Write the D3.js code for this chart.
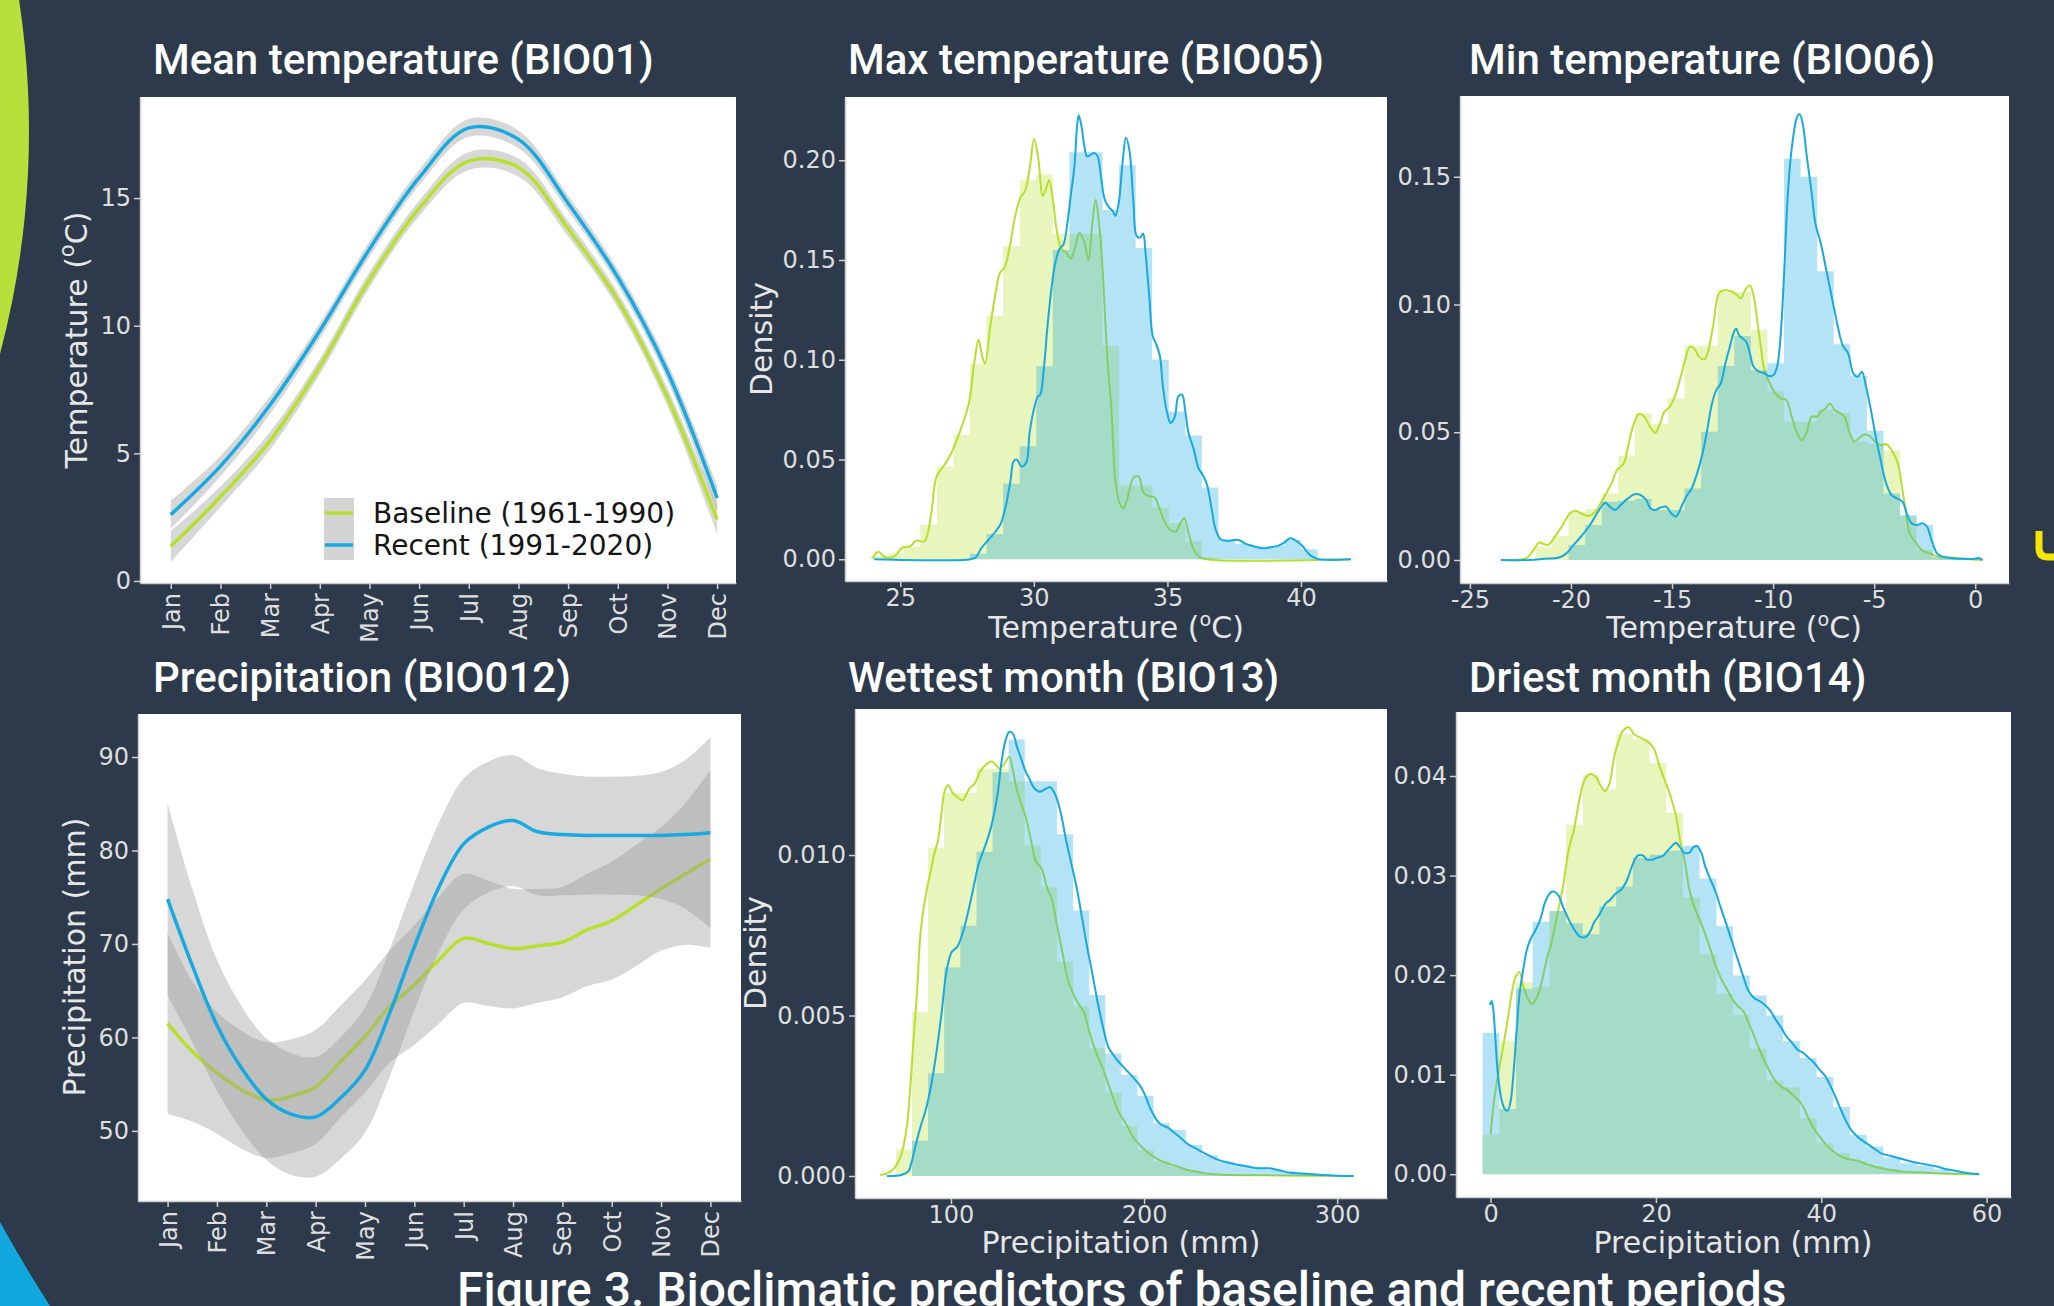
<!DOCTYPE html>
<meta charset="utf-8">
<style>
  body { margin: 0; background: #2d3a4b; }
  svg { display: block; }
  .title { font-family: Roboto, sans-serif; font-weight: 500; font-size: 42px; fill: #fff; }
  .axlabel { font-family: "DejaVu Sans", sans-serif; font-size: 30px; fill: #e6e6e6; }
  .legend { font-family: "DejaVu Sans", sans-serif; font-size: 28px; fill: #151515; }
</style>
<svg width="2054" height="1306"></svg>
<script src="https://d3js.org/d3.v7.min.js"></script>
<script>
// ---- data ----
var months = ["Jan", "Feb", "Mar", "Apr", "May", "Jun", "Jul", "Aug", "Sep", "Oct", "Nov", "Dec"]
var monthPos = [0, 1, 2, 3, 4, 5, 6, 7, 8, 9, 10, 11]
var halfMonthPos = [0, 0.5, 1, 1.5, 2, 2.5, 3, 3.5, 4, 4.5, 5, 5.5, 6, 6.5, 7, 7.5, 8, 8.5, 9, 9.5, 10, 10.5, 11]

// BIO01 mean temperature per month
var tempBase = [1.35, 3.3, 5.5, 8.4, 11.8, 14.6, 16.45, 16.2, 13.8, 11.0, 7.2, 2.4]
var tempRecent = [2.6, 4.5, 6.9, 9.8, 13.0, 15.8, 17.75, 17.3, 14.8, 11.9, 8.2, 3.25]
var tempBaseCi = [0.6, 0.4, 0.35, 0.3, 0.3, 0.3, 0.35, 0.35, 0.3, 0.3, 0.35, 0.55]
var tempRecentCi = [0.55, 0.4, 0.35, 0.3, 0.3, 0.3, 0.35, 0.35, 0.3, 0.3, 0.35, 0.5]

// BIO12 precipitation, half-month steps
var precBase = [61.5, 58.5, 56.2, 54.4, 53.3, 53.7, 54.7, 57.4, 60.1, 63.3, 65.6, 68.3, 70.6, 70.05, 69.5, 69.8, 70.2, 71.5, 72.5, 74.15, 75.9, 77.5, 79.1]
var precRecent = [74.8, 67.7, 61.3, 56.7, 53.4, 51.8, 51.5, 53.5, 56.5, 62.6, 69.7, 76.1, 80.7, 82.5, 83.2, 82.0, 81.7, 81.6, 81.6, 81.6, 81.6, 81.7, 81.9]
var precBaseCi = [9.7, 7.5, 6.5, 6.3, 6.2, 6.1, 6.1, 6.0, 6.0, 6.0, 6.4, 6.8, 6.9, 6.7, 6.4, 6.1, 5.9, 6.0, 6.3, 6.5, 6.6, 7.6, 9.5]
var precRecentCi = [10.25, 8.2, 7.0, 6.6, 6.5, 6.5, 6.4, 6.5, 6.7, 6.8, 6.8, 6.9, 7.0, 7.0, 7.0, 6.8, 6.5, 6.3, 6.3, 6.4, 6.8, 8.0, 10.2]

// BIO05 max temperature: histogram + kde
var maxBinStart = 23.89, maxBinWidth = 0.62
var maxHistBase = [0.0017, 0.003, 0.0064, 0.0172, 0.0465, 0.0624, 0.098, 0.122, 0.157, 0.190, 0.193, 0.163, 0.163, 0.163, 0.107, 0.037, 0.037, 0.026, 0.018, 0.009, 0.001]
var maxHistRecent = [0, 0, 0, 0, 0, 0, 0.0027, 0.0127, 0.0378, 0.0566, 0.0968, 0.155, 0.204, 0.204, 0.175, 0.1975, 0.156, 0.100, 0.074, 0.062, 0.036, 0.010, 0.0077, 0.0064, 0.0067, 0.0097, 0.005, 0.0005]
var maxKdeBase = [[23.96,0.0005],[24.18,0.0038],[24.43,0.001],[24.76,0.0013],[25.09,0.006],[25.36,0.0064],[25.6,0.0094],[25.9,0.0089],[26.16,0.0231],[26.36,0.0415],[26.7,0.0482],[26.97,0.0549],[27.3,0.0666],[27.57,0.0783],[27.77,0.0984],[27.93,0.110],[28.06,0.1021],[28.17,0.0979],[28.37,0.1168],[28.57,0.1336],[28.73,0.1436],[28.9,0.1461],[29.1,0.1567],[29.3,0.172],[29.5,0.1813],[29.67,0.1846],[29.84,0.1955],[30.01,0.2106],[30.17,0.2005],[30.33,0.1821],[30.47,0.1863],[30.57,0.1901],[30.71,0.1804],[30.87,0.1637],[31.04,0.1553],[31.22,0.1537],[31.38,0.1507],[31.54,0.1562],[31.71,0.1637],[31.89,0.1587],[32.05,0.15],[32.18,0.167],[32.31,0.1801],[32.45,0.167],[32.58,0.1436],[32.74,0.1034],[32.91,0.0733],[33.05,0.0398],[33.21,0.0281],[33.36,0.0256],[33.52,0.0315],[33.72,0.0407],[33.92,0.0415],[34.12,0.0331],[34.32,0.0315],[34.52,0.0311],[34.72,0.0248],[34.92,0.0181],[35.12,0.0147],[35.32,0.0139],[35.45,0.0172],[35.63,0.0206],[35.79,0.0131],[35.99,0.0047],[36.19,0.0013],[36.46,0],[41.87,0]]
var maxKdeRecent = [[24.02,0],[27.63,0],[27.83,0.001],[28.03,0.0055],[28.3,0.0097],[28.57,0.0139],[28.77,0.0181],[28.97,0.0281],[29.13,0.0398],[29.24,0.049],[29.37,0.0499],[29.53,0.0465],[29.71,0.0482],[29.84,0.0633],[29.97,0.0733],[30.15,0.0817],[30.24,0.0825],[30.37,0.0951],[30.51,0.1168],[30.64,0.1336],[30.78,0.147],[30.95,0.1553],[31.11,0.1578],[31.24,0.1671],[31.38,0.1821],[31.52,0.1972],[31.62,0.2173],[31.68,0.2226],[31.78,0.2173],[31.89,0.2072],[31.99,0.2019],[32.11,0.2026],[32.25,0.2036],[32.38,0.2022],[32.51,0.1922],[32.65,0.1804],[32.82,0.1762],[32.95,0.1746],[33.05,0.1721],[33.18,0.1788],[33.32,0.1989],[33.45,0.2114],[33.58,0.2047],[33.72,0.1804],[33.85,0.162],[33.98,0.1612],[34.09,0.1633],[34.18,0.1537],[34.32,0.1319],[34.45,0.1118],[34.59,0.1076],[34.72,0.1018],[34.83,0.0867],[34.99,0.0733],[35.12,0.0683],[35.28,0.0716],[35.41,0.0817],[35.55,0.0825],[35.66,0.075],[35.79,0.0633],[35.99,0.0549],[36.16,0.0457],[36.32,0.0424],[36.48,0.0375],[36.66,0.0249],[36.79,0.0156],[36.99,0.01],[37.26,0.0092],[37.66,0.0097],[37.93,0.0077],[38.26,0.0064],[38.6,0.0055],[38.86,0.006],[39.13,0.0067],[39.33,0.008],[39.6,0.0105],[39.8,0.0094],[40.07,0.0064],[40.33,0.0022],[40.6,0.0002],[41.87,0]]

// BIO06 min temperature
var minBinStart = -21.76, minBinWidth = 0.82
var minHistBase = [0.0052, 0.0094, 0.0189, 0.020, 0.026, 0.0408, 0.0574, 0.0532, 0.0633, 0.0839, 0.0839, 0.1057, 0.1049, 0.090, 0.0659, 0.0541, 0.0541, 0.0587, 0.0574, 0.0463, 0.0454, 0.0428, 0.017, 0.004, 0.0013, 0.0007, 0.0004]
var minHistRecent = [0, 0, 0.0059, 0.0137, 0.0228, 0.0232, 0.024, 0.0196, 0.0196, 0.028, 0.0502, 0.0759, 0.0877, 0.0743, 0.077, 0.157, 0.150, 0.113, 0.0844, 0.072, 0.0506, 0.026, 0.0176, 0.0137, 0.0013, 0.0007, 0.0004]
var minKdeBase = [[-23.47,0],[-22.39,0.0003],[-22.12,0.0013],[-21.85,0.0039],[-21.58,0.0068],[-21.35,0.0063],[-21.13,0.0059],[-20.77,0.0094],[-20.41,0.0137],[-20.05,0.0183],[-19.78,0.0193],[-19.51,0.0183],[-19.15,0.0172],[-18.8,0.0189],[-18.53,0.0222],[-18.26,0.0261],[-17.99,0.03],[-17.72,0.0352],[-17.39,0.0378],[-17.18,0.0443],[-16.91,0.0528],[-16.64,0.0571],[-16.37,0.0561],[-16.1,0.0522],[-15.83,0.0498],[-15.59,0.0535],[-15.38,0.058],[-15.11,0.06],[-14.84,0.0646],[-14.57,0.0717],[-14.33,0.0789],[-14.12,0.0835],[-13.9,0.0828],[-13.67,0.0796],[-13.4,0.0785],[-13.18,0.0828],[-12.95,0.0926],[-12.68,0.1043],[-12.41,0.1057],[-12.05,0.105],[-11.78,0.1037],[-11.6,0.1024],[-11.38,0.1057],[-11.15,0.1074],[-10.97,0.1037],[-10.79,0.0939],[-10.61,0.0835],[-10.43,0.0743],[-10.16,0.0691],[-9.89,0.0652],[-9.62,0.0633],[-9.35,0.0626],[-9.08,0.0561],[-8.81,0.0496],[-8.58,0.047],[-8.36,0.0496],[-8.09,0.0561],[-7.82,0.0561],[-7.64,0.058],[-7.41,0.0593],[-7.19,0.0613],[-6.96,0.0587],[-6.71,0.0576],[-6.47,0.0561],[-6.21,0.0496],[-5.99,0.0463],[-5.76,0.0476],[-5.49,0.0491],[-5.22,0.0485],[-4.95,0.0463],[-4.68,0.045],[-4.41,0.0454],[-4.14,0.043],[-3.83,0.0378],[-3.6,0.0274],[-3.42,0.0183],[-3.24,0.0104],[-2.97,0.0072],[-2.61,0.0037],[-2.25,0.0026],[-1.8,0.0013],[-1.17,0.001],[-0.45,0.0004],[0.36,0]]
var minKdeRecent = [[-23.47,0],[-22.03,0],[-21.31,0.0005],[-20.59,0.001],[-20.23,0.0026],[-19.87,0.0059],[-19.51,0.0091],[-19.06,0.0137],[-18.71,0.0183],[-18.44,0.0215],[-18.29,0.0224],[-18.08,0.0209],[-17.81,0.0196],[-17.54,0.0215],[-17.18,0.0241],[-16.82,0.0258],[-16.55,0.0254],[-16.28,0.0235],[-16.06,0.0202],[-15.83,0.0196],[-15.56,0.0206],[-15.29,0.0209],[-15.05,0.0183],[-14.8,0.017],[-14.57,0.0202],[-14.3,0.0248],[-14.03,0.028],[-13.76,0.0339],[-13.49,0.0417],[-13.26,0.0509],[-13.04,0.0607],[-12.81,0.0665],[-12.59,0.0691],[-12.36,0.0769],[-12.14,0.0835],[-11.96,0.0887],[-11.83,0.0906],[-11.69,0.088],[-11.51,0.0867],[-11.33,0.0854],[-11.15,0.0809],[-10.97,0.0757],[-10.7,0.0737],[-10.43,0.0731],[-10.2,0.072],[-9.98,0.0724],[-9.8,0.0757],[-9.62,0.0887],[-9.44,0.1148],[-9.26,0.1448],[-9.05,0.163],[-8.81,0.1735],[-8.69,0.1745],[-8.54,0.1709],[-8.33,0.1578],[-8.09,0.1435],[-7.91,0.1317],[-7.64,0.1239],[-7.37,0.1135],[-7.1,0.103],[-6.83,0.0926],[-6.56,0.0841],[-6.29,0.0809],[-6.03,0.073],[-5.81,0.0717],[-5.61,0.0737],[-5.4,0.0678],[-5.13,0.0574],[-4.91,0.0476],[-4.68,0.0391],[-4.41,0.03],[-4.14,0.0254],[-3.87,0.0241],[-3.6,0.0228],[-3.36,0.0176],[-3.15,0.0144],[-2.88,0.0137],[-2.61,0.0144],[-2.39,0.0131],[-2.16,0.0078],[-1.89,0.0026],[-1.62,0.0013],[-1.17,0.0007],[-0.63,0.0005],[-0.09,0.0004],[0.18,0.0008],[0.36,0]]

// BIO13 wettest month precipitation
var wetBinStart = 71.48, wetBinWidth = 8.34
var wetHistBase = [0.00083, 0.0051, 0.01023, 0.01194, 0.01194, 0.0127, 0.0127, 0.0123, 0.0103, 0.009, 0.00668, 0.0053, 0.00398, 0.0026, 0.00156, 0.00081, 0.00045, 0.00029, 0.00013, 0.0001, 0.00005, 0.00003]
var wetHistRecent = [0, 0.0011, 0.0032, 0.0065, 0.0078, 0.0101, 0.01258, 0.0136, 0.0123, 0.0123, 0.01065, 0.00827, 0.00564, 0.00382, 0.00315, 0.00249, 0.00164, 0.00143, 0.00097, 0.00065, 0.00045, 0.00034, 0.00024, 0.0002, 0.00014, 0.0001, 0.00006, 0.00003]
var wetKdeBase = [[63.3,0.00003],[66.9,0.00008],[70.6,0.00024],[74.2,0.00066],[76.9,0.00143],[78.7,0.00257],[80.6,0.00423],[82.4,0.00569],[84.2,0.00756],[86.0,0.00839],[87.8,0.00901],[89.6,0.00953],[91.4,0.01005],[93.3,0.01047],[95.1,0.0113],[96.9,0.01202],[98.7,0.01218],[100.5,0.01197],[103.3,0.0118],[106.0,0.01171],[107.8,0.01187],[109.6,0.01208],[112.4,0.01224],[115.1,0.0126],[117.8,0.0128],[121.4,0.01291],[123.3,0.0128],[125.1,0.0127],[127.2,0.0128],[130.2,0.01306],[132.0,0.01265],[134.2,0.01202],[136.3,0.01161],[138.7,0.01119],[141.4,0.01047],[144.1,0.00979],[146.9,0.00958],[149.6,0.00901],[152.3,0.0086],[155.0,0.00777],[157.8,0.00694],[160.5,0.00611],[163.2,0.00569],[165.9,0.00538],[168.7,0.00512],[171.4,0.00455],[174.1,0.00403],[176.8,0.00361],[179.6,0.00319],[183.2,0.00257],[186.8,0.002],[190.5,0.00164],[194.1,0.00123],[197.7,0.00097],[201.4,0.00076],[205.0,0.0006],[208.6,0.00048],[213.2,0.00037],[217.7,0.00029],[222.3,0.00019],[226.8,0.00014],[232.2,0.00008],[241.3,0.00004],[263.1,0.00002],[308.5,0]]
var wetKdeRecent = [[66.9,0],[74.2,0.00003],[77.8,0.00014],[79.7,0.00045],[81.5,0.00091],[84.2,0.00153],[86.9,0.00205],[89.6,0.00278],[92.4,0.00382],[95.1,0.00506],[97.8,0.00642],[100.5,0.00699],[103.3,0.00714],[106.0,0.00756],[108.7,0.00818],[111.4,0.00891],[114.2,0.00969],[116.9,0.01015],[119.6,0.01062],[121.8,0.01114],[124.2,0.01192],[126.3,0.01296],[128.3,0.01358],[130.2,0.01384],[132.0,0.01379],[134.2,0.01337],[136.3,0.01301],[138.7,0.0126],[140.5,0.01239],[143.2,0.01208],[146.0,0.01197],[148.7,0.01205],[151.4,0.01211],[154.1,0.01187],[156.9,0.0113],[159.6,0.01047],[162.3,0.00974],[165.0,0.00901],[167.8,0.00807],[170.5,0.00714],[173.2,0.00631],[175.9,0.00543],[178.7,0.00465],[181.4,0.00403],[184.1,0.00377],[186.8,0.00356],[190.5,0.00332],[194.1,0.00309],[197.7,0.00283],[200.5,0.00252],[203.2,0.00211],[206.8,0.00172],[209.5,0.00158],[212.3,0.00151],[215.0,0.00138],[218.7,0.0012],[222.3,0.00101],[226.8,0.00086],[232.2,0.00068],[237.7,0.00052],[243.1,0.00042],[248.6,0.00035],[254.0,0.00029],[259.5,0.00024],[265.0,0.00024],[270.4,0.00017],[275.8,0.0001],[281.3,0.00008],[290.4,0.00004],[299.5,0.00001],[308.5,0]]

// BIO14 driest month precipitation
var dryBinStart = -0.97, dryBinWidth = 2.02
var dryHistBase = [0.00396, 0.01336, 0.0193, 0.0188, 0.0264, 0.0351, 0.0401, 0.0387, 0.0442, 0.0437, 0.0413, 0.0363, 0.0278, 0.0221, 0.0181, 0.016, 0.0126, 0.0094, 0.0087, 0.0056, 0.0031, 0.0021, 0.0013, 0.0008, 0.0005, 0.0003, 0.0002, 0.0001]
var dryHistRecent = [0.0142, 0.00654, 0.01862, 0.02534, 0.02644, 0.0252, 0.0241, 0.0269, 0.0289, 0.0318, 0.0321, 0.0325, 0.033, 0.0297, 0.0249, 0.01997, 0.01795, 0.01594, 0.01336, 0.01168, 0.00977, 0.00674, 0.00396, 0.00279, 0.00171, 0.00111, 0.00084, 0.0005, 0.0002]
var dryKdeBase = [[0,0.004],[0.44,0.0075],[1.01,0.0105],[1.54,0.0129],[2.07,0.0155],[2.64,0.0185],[3.08,0.0199],[3.52,0.0203],[3.96,0.0189],[4.53,0.0176],[5.05,0.0171],[5.58,0.0177],[6.15,0.0192],[6.81,0.0216],[7.47,0.0236],[8.13,0.0263],[8.79,0.029],[9.45,0.0326],[10.11,0.0347],[10.77,0.0377],[11.43,0.0397],[12.09,0.0402],[12.75,0.0399],[13.32,0.039],[13.85,0.0385],[14.37,0.0392],[14.95,0.0419],[15.52,0.0436],[16.04,0.0446],[16.7,0.0449],[17.36,0.0442],[18.02,0.0439],[18.68,0.0436],[19.34,0.0432],[19.78,0.0427],[20.44,0.041],[21.1,0.0395],[21.76,0.038],[22.42,0.036],[22.99,0.0333],[23.52,0.0313],[24.04,0.0286],[24.62,0.0269],[25.27,0.0256],[25.93,0.0242],[26.59,0.0226],[27.25,0.0209],[27.91,0.0196],[28.57,0.0186],[29.23,0.0176],[29.89,0.0169],[30.55,0.0164],[31.21,0.0152],[31.87,0.0139],[32.53,0.0125],[33.19,0.0113],[33.85,0.0102],[34.51,0.0093],[35.16,0.0088],[35.82,0.0085],[36.48,0.008],[37.14,0.0075],[37.8,0.0068],[38.46,0.0056],[39.12,0.0046],[39.78,0.0038],[40.66,0.0029],[41.76,0.0021],[42.86,0.0016],[44.18,0.0014],[45.49,0.001],[47.25,0.0006],[49.45,0.0003],[51.65,0.0002],[53.85,0.0001],[56.04,0.00003],[58.9,0]]
var dryKdeRecent = [[-0.09,0.017],[0.13,0.0174],[0.31,0.0167],[0.57,0.0138],[0.88,0.0101],[1.32,0.0075],[1.76,0.0065],[2.07,0.0064],[2.42,0.0073],[2.77,0.0101],[3.16,0.0145],[3.52,0.0182],[3.96,0.0206],[4.4,0.0226],[4.84,0.0236],[5.49,0.0246],[6.02,0.0256],[6.59,0.0273],[7.25,0.0283],[7.69,0.0284],[8.22,0.028],[8.79,0.0268],[9.45,0.0256],[10.11,0.0246],[10.77,0.0239],[11.43,0.0238],[12.0,0.0243],[12.53,0.0253],[13.19,0.0261],[13.85,0.0271],[14.51,0.0276],[15.16,0.0282],[15.82,0.0286],[16.48,0.0295],[17.14,0.031],[17.8,0.032],[18.46,0.032],[18.9,0.0316],[19.56,0.0316],[20.22,0.0318],[20.88,0.032],[21.41,0.0325],[21.98,0.033],[22.42,0.0333],[22.86,0.0329],[23.43,0.0323],[24.04,0.0323],[24.48,0.0328],[24.92,0.033],[25.49,0.0323],[25.93,0.031],[26.59,0.0296],[27.25,0.0283],[27.91,0.0266],[28.57,0.025],[29.23,0.0233],[29.89,0.0216],[30.55,0.0199],[31.21,0.0184],[31.87,0.0177],[32.53,0.0174],[33.19,0.017],[33.85,0.0164],[34.51,0.0155],[35.16,0.0147],[35.82,0.0138],[36.48,0.0132],[37.14,0.0125],[37.8,0.0122],[38.46,0.0117],[39.12,0.0112],[39.78,0.0105],[40.44,0.0099],[41.1,0.0089],[41.76,0.0077],[42.42,0.0064],[43.08,0.0052],[43.74,0.0043],[44.62,0.0036],[45.49,0.0031],[46.37,0.0026],[47.25,0.0021],[48.57,0.0018],[49.89,0.0015],[51.21,0.0012],[52.53,0.001],[53.85,0.0008],[55.16,0.0005],[56.48,0.0003],[57.8,0.0001],[59.12,0]]

// ---- drawing ----
var lime = "#b6e02e", blue = "#17a9e0", grid = "#cfcfcf", tickText = "#dedede"
var svg = d3.select("svg")
svg.append("rect").attr("width", 2054).attr("height", 1306).attr("fill", "#2d3a4b")

// slide decorations
svg.append("circle").attr("cx", -843).attr("cy", 131).attr("r", 872).attr("fill", "#b7e03a")
svg.append("path").attr("d", "M0,1222 Q22,1262 50,1306 L0,1306Z").attr("fill", "#12a8de")
svg.append("path").attr("d", "M2039,531 L2039,548 Q2039,557 2048,557 L2056,557")
  .attr("fill", "none").attr("stroke", "#f3e600").attr("stroke-width", 7)

function panel(box, xd, yd) {
  var x = d3.scaleLinear().domain(xd).range([box.l, box.r])
  var y = d3.scaleLinear().domain(yd).range([box.b, box.t])
  svg.append("rect").attr("x", box.l).attr("y", box.t)
    .attr("width", box.r - box.l).attr("height", box.b - box.t).attr("fill", "#fff")
  return { x: x, y: y, box: box, g: svg.append("g") }
}

function styleAxis(a, fs) {
  a.attr("font-family", "DejaVu Sans").attr("font-size", fs)
  a.selectAll(".domain, .tick line").attr("stroke", grid).attr("stroke-width", 1.5)
  a.selectAll("text").attr("fill", tickText)
}

function yAxis(p, vals, fmt, fs) {
  var a = svg.append("g").attr("transform", "translate(" + p.box.l + ",0)")
    .call(d3.axisLeft(p.y).tickValues(vals).tickFormat(fmt).tickSize(6).tickPadding(3).tickSizeOuter(0))
  styleAxis(a, fs)
}

function xAxis(p, vals, fmt, fs) {
  var a = svg.append("g").attr("transform", "translate(0," + p.box.b + ")")
    .call(d3.axisBottom(p.x).tickValues(vals).tickFormat(fmt).tickSize(6).tickPadding(2).tickSizeOuter(0))
  styleAxis(a, fs)
  return a
}

function monthAxis(p) {
  var a = xAxis(p, monthPos, function (i) { return months[i] }, 24)
  a.selectAll("text").attr("transform", "rotate(-90)").attr("text-anchor", "end")
    .attr("x", -10).attr("y", 0).attr("dy", "0.35em")
}

function title(txt, x, y) {
  svg.append("text").attr("class", "title").attr("x", x).attr("y", y).text(txt)
}

function yLabel(parts, x, y, fs) {
  var t = svg.append("text").attr("class", "axlabel").attr("font-size", fs)
    .attr("transform", "translate(" + x + "," + y + ") rotate(-90)").attr("text-anchor", "middle")
  addParts(t, parts, fs)
}

function xLabel(parts, x, y, fs) {
  var t = svg.append("text").attr("class", "axlabel").attr("font-size", fs)
    .attr("x", x).attr("y", y).attr("text-anchor", "middle")
  addParts(t, parts, fs)
}

// "Temperature (", superscript "o", "C)"
function addParts(t, parts, fs) {
  if (parts.length === 1) { t.text(parts[0]); return }
  t.append("tspan").text(parts[0])
  t.append("tspan").attr("dy", -fs * 0.38).attr("font-size", fs * 0.62).text(parts[1])
  t.append("tspan").attr("dy", fs * 0.38).text(parts[2])
}

function smoothPanel(p, pos, series, cis, colors, width) {
  series.forEach(function (s, k) {
    var band = d3.area().curve(d3.curveCatmullRom)
      .x(function (d, i) { return p.x(pos[i]) })
      .y0(function (d, i) { return p.y(d - cis[k][i]) })
      .y1(function (d, i) { return p.y(d + cis[k][i]) })
    var line = d3.line().curve(d3.curveCatmullRom)
      .x(function (d, i) { return p.x(pos[i]) })
      .y(function (d) { return p.y(d) })
    p.g.append("path").attr("d", band(s)).attr("fill", "#969696").attr("fill-opacity", 0.38)
    p.g.append("path").attr("d", line(s)).attr("fill", "none").attr("stroke", colors[k])
      .attr("stroke-width", width).attr("stroke-linecap", "butt")
  })
}

function histPanel(p, start, width, hists, kdes) {
  var cols = [lime, blue]
  hists.forEach(function (h, k) {
    var pts = h.map(function (v, i) { return [start + i * width, v] })
    pts.push([start + h.length * width, h[h.length - 1]])
    var area = d3.area().curve(d3.curveStepAfter)
      .x(function (d) { return p.x(d[0]) }).y0(p.y(0)).y1(function (d) { return p.y(d[1]) })
    p.g.append("path").attr("d", area(pts)).attr("fill", cols[k]).attr("fill-opacity", 0.32)
    var line = d3.line().curve(d3.curveCatmullRom.alpha(0.5))
      .x(function (d) { return p.x(d[0]) }).y(function (d) { return p.y(d[1]) })
    p.g.append("path").attr("d", line(kdes[k])).attr("fill", "none")
      .attr("stroke", cols[k]).attr("stroke-width", 2)
  })
}

var degParts = ["Temperature (", "o", "C)"]

// Mean temperature
var p1 = panel({ l: 140, t: 97, r: 736, b: 583 }, [-0.62, 11.38], [-0.08, 18.96])
smoothPanel(p1, monthPos, [tempBase, tempRecent], [tempBaseCi, tempRecentCi], [lime, blue], 3.5)
yAxis(p1, [0, 5, 10, 15], d3.format("d"), 24)
monthAxis(p1)
title("Mean temperature (BIO01)", 153, 74)
yLabel(degParts, 87, 340, 34)
// legend
var leg = svg.append("g")
leg.append("rect").attr("x", 324).attr("y", 498).attr("width", 30).attr("height", 62).attr("fill", "#d4d4d4")
;[[lime, "Baseline (1961-1990)", 513], [blue, "Recent (1991-2020)", 545]].forEach(function (e) {
  leg.append("line").attr("x1", 325).attr("x2", 353).attr("y1", e[2]).attr("y2", e[2])
    .attr("stroke", e[0]).attr("stroke-width", 3.5)
  leg.append("text").attr("class", "legend").attr("x", 373).attr("y", e[2] + 10).text(e[1])
})

// Max temperature
var p2 = panel({ l: 845, t: 97, r: 1387, b: 581 }, [22.93, 43.22], [-0.0109, 0.2317])
histPanel(p2, maxBinStart, maxBinWidth, [maxHistBase, maxHistRecent], [maxKdeBase, maxKdeRecent])
yAxis(p2, [0, 0.05, 0.1, 0.15, 0.2], d3.format(".2f"), 24)
xAxis(p2, [25, 30, 35, 40], d3.format("d"), 24)
title("Max temperature (BIO05)", 848, 74)
yLabel(["Density"], 772, 339, 31)
xLabel(degParts, 1116, 638, 31)

// Min temperature
var p3 = panel({ l: 1460, t: 96, r: 2009, b: 583 }, [-25.49, 1.67], [-0.009, 0.1816])
histPanel(p3, minBinStart, minBinWidth, [minHistBase, minHistRecent], [minKdeBase, minKdeRecent])
yAxis(p3, [0, 0.05, 0.1, 0.15], d3.format(".2f"), 24)
xAxis(p3, [-25, -20, -15, -10, -5, 0], function (d) { return String(d) }, 24)
title("Min temperature (BIO06)", 1469, 74)
xLabel(degParts, 1734, 638, 31)

// Precipitation
var p4 = panel({ l: 138, t: 714, r: 741, b: 1201 }, [-0.6, 11.62], [42.5, 94.6])
smoothPanel(p4, halfMonthPos, [precBase, precRecent], [precBaseCi, precRecentCi], [lime, blue], 3.5)
yAxis(p4, [50, 60, 70, 80, 90], d3.format("d"), 24)
monthAxis(p4)
title("Precipitation (BIO012)", 153, 692)
yLabel(["Precipitation (mm)"], 85, 957, 34)

// Wettest month
var p5 = panel({ l: 855, t: 709, r: 1387, b: 1198 }, [50.3, 325.8], [-0.000685, 0.01455])
histPanel(p5, wetBinStart, wetBinWidth, [wetHistBase, wetHistRecent], [wetKdeBase, wetKdeRecent])
yAxis(p5, [0, 0.005, 0.01], d3.format(".3f"), 24)
xAxis(p5, [100, 200, 300], d3.format("d"), 24)
title("Wettest month (BIO13)", 848, 692)
yLabel(["Density"], 766, 953, 31)
xLabel(["Precipitation (mm)"], 1121, 1253, 31)

// Driest month
var p6 = panel({ l: 1456, t: 712, r: 2011, b: 1197 }, [-4.18, 62.95], [-0.00229, 0.04643])
histPanel(p6, dryBinStart, dryBinWidth, [dryHistBase, dryHistRecent], [dryKdeBase, dryKdeRecent])
yAxis(p6, [0, 0.01, 0.02, 0.03, 0.04], d3.format(".2f"), 24)
xAxis(p6, [0, 20, 40, 60], d3.format("d"), 24)
title("Driest month (BIO14)", 1469, 692)
xLabel(["Precipitation (mm)"], 1733, 1253, 31)

svg.append("text").attr("x", 457).attr("y", 1306)
  .attr("font-family", "Roboto").attr("font-weight", 500).attr("font-size", 48).attr("fill", "#fff")
  .text("Figure 3. Bioclimatic predictors of baseline and recent periods")
</script>
